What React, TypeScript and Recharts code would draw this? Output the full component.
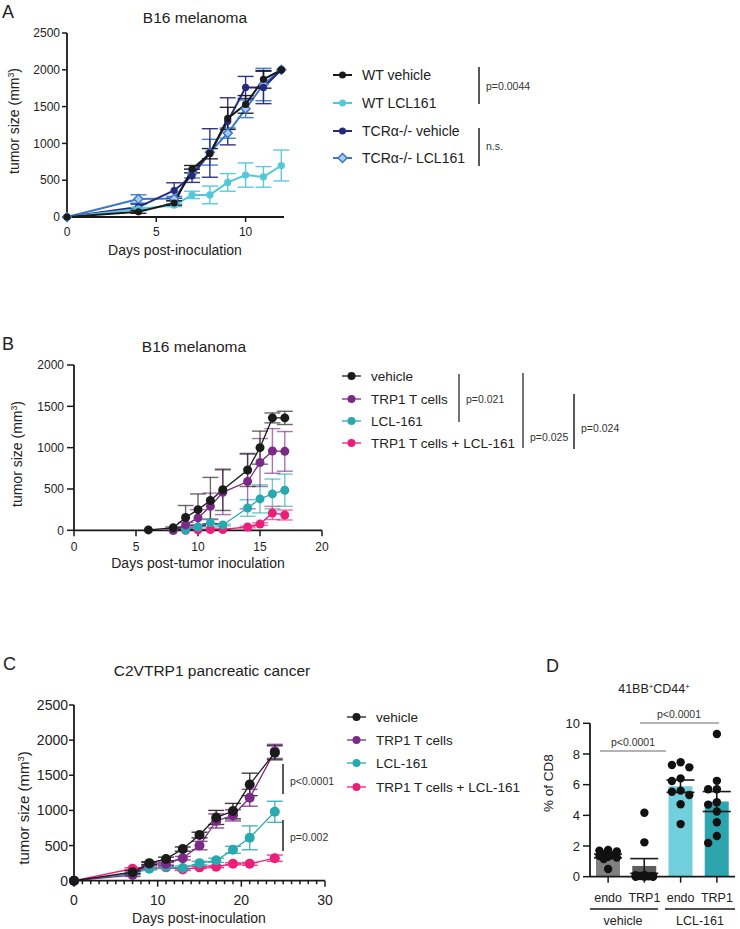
import React from "react"
import { Bar, Cell, ComposedChart, ErrorBar, Line, LineChart, Scatter, XAxis, YAxis } from "recharts"

const FONT = "'Liberation Sans', Arial, Helvetica, sans-serif"
const INK = "#1a1a1a"

// ---- panel A: B16, WT vs TCRa-/- ----
const daysA = [0, 4, 6, 7, 8, 9, 10, 11, 12]
const wtVehicle = [0, 70, 190, 650, 860, 1340, 1530, 1870, 2000]
const wtVehicleSem = [0, 20, 30, 50, 70, 150, 120, 120, 0]
const wtLcl = [0, 110, 160, 300, 300, 470, 570, 545, 700]
const wtLclSem = [0, 20, 20, 50, 120, 120, 165, 140, 210]
const tcrVehicle = [0, 135, 360, 560, 870, 1300, 1760, 1760, 2000]
const tcrVehicleSem = [0, 40, 105, 90, 330, 320, 150, 220, 0]
const tcrLcl = [0, 245, 250, 590, 880, 1140, 1470, 1800, 2000]
const tcrLclSem = [0, 57, 30, 60, 175, 70, 120, 220, 0]

// ---- panel B: B16, TRP1 T cells ----
const daysB = [6, 8, 9, 10, 11, 12, 14, 15, 16, 17]
const bVehicle = [5, 30, 155, 250, 360, 490, 730, 1000, 1360, 1360]
const bVehicleSem = [0, 10, 145, 190, 280, 250, 200, 200, 60, 80]
const bTrp1 = [null, 0, 65, 150, 290, 460, 590, 820, 960, 955]
const bTrp1Sem = [null, 0, 30, 100, 160, 270, 330, 290, 270, 240]
const bLcl = [null, 0, 5, 40, 90, 65, 270, 380, 440, 485]
const bLclSem = [null, 0, 5, 30, 50, 10, 100, 170, 180, 195]
const bCombo = [null, 0, 0, 5, 10, 10, 40, 75, 210, 185]
const bComboSem = [null, 0, 0, 0, 5, 5, 10, 15, 80, 60]

// ---- panel C: C2VTRP1 ----
const daysC = [0, 7, 9, 11, 13, 15, 17, 19, 21, 24]
const cVehicle = [0, 120, 250, 310, 450, 650, 900, 990, 1370, 1820]
const cVehicleSem = [0, 20, 20, 25, 30, 40, 100, 110, 160, 100]
const cTrp1 = [0, 80, 240, 240, 320, 500, 850, 930, 1180, 1840]
const cTrp1Sem = [0, 20, 20, 20, 25, 60, 100, 80, 120, 100]
const cLcl = [0, 100, 170, 200, 180, 250, 290, 440, 610, 980]
const cLclSem = [0, 15, 15, 20, 30, 25, 30, 50, 170, 150]
const cCombo = [0, 170, 180, 190, 160, 190, 200, 240, 240, 320]
const cComboSem = [0, 15, 15, 15, 15, 15, 15, 15, 20, 45]

// ---- panel D: 41BB+CD44+ % of CD8 ----
const dLabels = ["endo", "TRP1", "endo", "TRP1"]
const dMean = [1.35, 0.7, 5.9, 4.9]
const dSem = [0.12, 0.48, 0.4, 0.65]
const dVehEndo = [1.75, 1.7, 1.65, 1.45, 1.4, 1.35, 1.3, 1.25, 1.15, 0.5]
const dVehTrp1 = [4.17, 2.24, 0.12, 0.1, 0.05, 0.05, 0.02, 0, 0, 0]
const dLclEndo = [7.46, 7.28, 7.13, 6.41, 6.24, 5.61, 5.54, 5.33, 4.72, 3.43]
const dLclTrp1 = [9.3, 6.25, 5.7, 5.7, 4.85, 4.7, 4.25, 3.55, 2.65, 2.2]

const C_BLACK = "#1b1b1b"
const C_PURPLE = "#7b2b85"
const C_TEAL = "#2aa8b0"
const C_PINK = "#ec1e7a"

type Series = { key: string; name: string; color: string; values: (number | null)[]; sem: (number | null)[]; diamond?: boolean }

const seriesA: Series[] = [
  { key: "tcrLcl", name: "TCRα-/- LCL161", color: "#3b76c8", values: tcrLcl, sem: tcrLclSem, diamond: true },
  { key: "tcrVehicle", name: "TCRα-/- vehicle", color: "#252a7e", values: tcrVehicle, sem: tcrVehicleSem },
  { key: "wtLcl", name: "WT LCL161", color: "#52c8d8", values: wtLcl, sem: wtLclSem },
  { key: "wtVehicle", name: "WT vehicle", color: "#1a1a1a", values: wtVehicle, sem: wtVehicleSem },
]

const seriesB: Series[] = [
  { key: "combo", name: "TRP1 T cells + LCL-161", color: C_PINK, values: bCombo, sem: bComboSem },
  { key: "lcl", name: "LCL-161", color: C_TEAL, values: bLcl, sem: bLclSem },
  { key: "trp1", name: "TRP1 T cells", color: C_PURPLE, values: bTrp1, sem: bTrp1Sem },
  { key: "vehicle", name: "vehicle", color: C_BLACK, values: bVehicle, sem: bVehicleSem },
]

const seriesC: Series[] = [
  { key: "combo", name: "TRP1 T cells + LCL-161", color: C_PINK, values: cCombo, sem: cComboSem },
  { key: "lcl", name: "LCL-161", color: C_TEAL, values: cLcl, sem: cLclSem },
  { key: "trp1", name: "TRP1 T cells", color: C_PURPLE, values: cTrp1, sem: cTrp1Sem },
  { key: "vehicle", name: "vehicle", color: C_BLACK, values: cVehicle, sem: cVehicleSem },
]

function buildRows(days: number[], series: Series[]) {
  return days.map((day, i) => {
    const row: Record<string, number | null> = { day }
    series.forEach((s) => {
      row[s.key] = s.values[i]
      row[s.key + "Sem"] = s.values[i] == null ? null : s.sem[i]
    })
    return row
  })
}

const rowsA = buildRows(daysA, seriesA)
const rowsB = buildRows(daysB, seriesB)
const rowsC = buildRows(daysC, seriesC)

const rowsD = dMean.map((mean, i) => ({ x: i + 1, mean, sem: dSem[i] }))
const dGroups = [dVehEndo, dVehTrp1, dLclEndo, dLclTrp1]
const D_BAR_COLORS = ["#808080", "#5e5e5e", "#71d0dc", "#2ca5ae"]

// little beeswarm so dots of a group don't sit on top of each other
function swarm(values: number[], group: number) {
  const placed: { x: number; y: number }[] = []
  const cands = [0, -0.24, 0.24, -0.12, 0.12]
  const sorted = [...values].sort((a, b) => b - a)
  sorted.forEach((v) => {
    let best = cands[0]
    let bestD = -1
    for (const c of cands) {
      let dmin = Infinity
      placed.forEach((p) => {
        const dx = (p.x - c) * 36
        const dy = (p.y - v) * 15.3
        dmin = Math.min(dmin, Math.hypot(dx, dy))
      })
      if (dmin >= 7.5) {
        best = c
        break
      }
      if (dmin > bestD) {
        bestD = dmin
        best = c
      }
    }
    placed.push({ x: best, y: v })
  })
  return placed.map((p) => ({ x: group + p.x, y: p.y }))
}
const dotsD = dGroups.flatMap((g, i) => swarm(g, i + 1))

const axisLine = { stroke: INK, strokeWidth: 1.8 }
const tickLine = { stroke: INK, strokeWidth: 1.5 }

const diamondDot = (props: any) => {
  const { cx, cy, index } = props
  if (cx == null || cy == null) return <g key={`dm-${index}`} />
  const s = 4.5
  return (
    <path
      key={`dm-${index}`}
      d={`M${cx},${cy - s} L${cx + s},${cy} L${cx},${cy + s} L${cx - s},${cy} Z`}
      fill="#a9cbf0"
      stroke="#3b76c8"
      strokeWidth={1.5}
    />
  )
}

function Sup({ children }: { children: React.ReactNode }) {
  return (
    <tspan baselineShift="super" fontSize="0.62em">
      {children}
    </tspan>
  )
}

function LegendRow(props: { x: number; y: number; color: string; label: React.ReactNode; diamond?: boolean; lw: number; r: number; size: number }) {
  const { x, y, color, label, diamond, lw, r, size } = props
  return (
    <g>
      <line x1={x} x2={x + 19} y1={y} y2={y} stroke={color} strokeWidth={lw} />
      {diamond ? (
        <path d={`M${x + 9.5},${y - 4.5} L${x + 14},${y} L${x + 9.5},${y + 4.5} L${x + 5},${y} Z`} fill="#a9cbf0" stroke={color} strokeWidth={1.5} />
      ) : (
        <circle cx={x + 9.5} cy={y} r={r} fill={color} />
      )}
      <text x={x + 29} y={y + 5} fontSize={size} fill="#222">
        {label}
      </text>
    </g>
  )
}

function Bracket({ x, y1, y2, label, ly, color = "#444" }: { x: number; y1: number; y2: number; label: string; ly: number; color?: string }) {
  return (
    <g>
      <line x1={x} x2={x} y1={y1} y2={y2} stroke={color} strokeWidth={1.5} />
      <text x={x + 7} y={ly} fontSize={10.5} fill="#333">
        {label}
      </text>
    </g>
  )
}

function TumorLabel({ x, y, size }: { x: number; y: number; size: number }) {
  return (
    <text transform={`translate(${x},${y}) rotate(-90)`} textAnchor="middle" fontSize={size} fill="#222">
      tumor size (mm<Sup>3</Sup>)
    </text>
  )
}

function Overlay() {
  return (
    <svg width={740} height={929} style={{ position: "absolute", left: 0, top: 0, pointerEvents: "none" }} fontFamily={FONT}>
      {/* A */}
      <text x={2} y={18} fontSize={18} fill="#222">A</text>
      <text x={195} y={23} fontSize={15.5} textAnchor="middle" fill="#222">B16 melanoma</text>
      <TumorLabel x={19} y={121} size={14} />
      <text x={175} y={255} fontSize={14} textAnchor="middle" fill="#222">Days post-inoculation</text>
      <LegendRow x={333} y={75} color="#1a1a1a" label="WT vehicle" lw={2} r={3.5} size={14} />
      <LegendRow x={333} y={103} color="#52c8d8" label="WT LCL161" lw={2} r={3.5} size={14} />
      <LegendRow x={333} y={131} color="#252a7e" label="TCRα-/- vehicle" lw={2} r={3.5} size={14} />
      <LegendRow x={333} y={158} color="#3b76c8" label="TCRα-/- LCL161" lw={2} r={3.5} size={14} diamond />
      <Bracket x={479} y1={67} y2={104} label="p=0.0044" ly={90} color="#222" />
      <Bracket x={479} y1={128} y2={166} label="n.s." ly={150} color="#222" />

      {/* B */}
      <text x={2} y={350} fontSize={18} fill="#222">B</text>
      <text x={194} y={352} fontSize={15.5} textAnchor="middle" fill="#222">B16 melanoma</text>
      <TumorLabel x={22} y={454} size={14} />
      <text x={198} y={568} fontSize={14} textAnchor="middle" fill="#222">Days post-tumor inoculation</text>
      <LegendRow x={342} y={376} color={C_BLACK} label="vehicle" lw={1.3} r={4} size={13.5} />
      <LegendRow x={342} y={399} color={C_PURPLE} label="TRP1 T cells" lw={1.3} r={4} size={13.5} />
      <LegendRow x={342} y={421} color={C_TEAL} label="LCL-161" lw={1.3} r={4} size={13.5} />
      <LegendRow x={342} y={443} color={C_PINK} label="TRP1 T cells + LCL-161" lw={1.3} r={4} size={13.5} />
      <Bracket x={459} y1={374} y2={422} label="p=0.021" ly={403} />
      <Bracket x={523} y1={373} y2={448} label="p=0.025" ly={441} />
      <Bracket x={574} y1={394} y2={449} label="p=0.024" ly={432} color="#222" />

      {/* C */}
      <text x={3} y={670} fontSize={18} fill="#222">C</text>
      <text x={212} y={676} fontSize={15.5} textAnchor="middle" fill="#222">C2VTRP1 pancreatic cancer</text>
      <TumorLabel x={29} y={808} size={15} />
      <text x={199} y={923} fontSize={14} textAnchor="middle" fill="#222">Days post-inoculation</text>
      <LegendRow x={347} y={717} color={C_BLACK} label="vehicle" lw={1.3} r={4} size={13.5} />
      <LegendRow x={347} y={740} color={C_PURPLE} label="TRP1 T cells" lw={1.3} r={4} size={13.5} />
      <LegendRow x={347} y={763} color={C_TEAL} label="LCL-161" lw={1.3} r={4} size={13.5} />
      <LegendRow x={347} y={787} color={C_PINK} label="TRP1 T cells + LCL-161" lw={1.3} r={4} size={13.5} />
      <Bracket x={283} y1={764} y2={794} label="p<0.0001" ly={785} color="#222" />
      <Bracket x={283} y1={820} y2={851} label="p=0.002" ly={841} color="#222" />

      {/* D */}
      <text x={546} y={672} fontSize={18} fill="#222">D</text>
      <text x={654} y={693} fontSize={12.5} textAnchor="middle" fill="#222">
        41BB<Sup>+</Sup>CD44<Sup>+</Sup>
      </text>
      <text transform="translate(553,783) rotate(-90)" textAnchor="middle" fontSize={13.5} fill="#222">% of CD8</text>
      <line x1={600} x2={666} y1={751} y2={751} stroke="#9a9a9a" strokeWidth={1.5} />
      <text x={633} y={746} fontSize={10.5} textAnchor="middle" fill="#333">p&lt;0.0001</text>
      <line x1={640} x2={719} y1={723} y2={723} stroke="#9a9a9a" strokeWidth={1.5} />
      <text x={679} y={718} fontSize={10.5} textAnchor="middle" fill="#333">p&lt;0.0001</text>
      <line x1={590} x2={658} y1={909} y2={909} stroke={INK} strokeWidth={1.5} />
      <line x1={665} x2={735} y1={909} y2={909} stroke={INK} strokeWidth={1.5} />
      <text x={623} y={925} fontSize={12.5} textAnchor="middle" fill="#222">vehicle</text>
      <text x={700} y={925} fontSize={12.5} textAnchor="middle" fill="#222">LCL-161</text>
    </svg>
  )
}

function TimeCourse(props: {
  left: number
  top: number
  width: number
  height: number
  margin: { top: number; right: number; bottom: number; left: number }
  yWidth: number
  rows: Record<string, number | null>[]
  series: Series[]
  xDomain: [number, number]
  xTicks: number[]
  yDomain: [number, number]
  yTicks: number[]
  fontSize: number
  lineWidth: number
  dotR: number
  xTickSize: number
  xTickMargin: number
  yTickSize: number
  yTickMargin: number
  minorTicks?: number[]
  errOpacity: number
}) {
  const p = props
  const majorSet = new Set(p.xTicks)
  const minorTick = (tp: any) => {
    const { x, y, payload } = tp
    const major = majorSet.has(payload.value)
    return (
      <g>
        <line x1={x} x2={x} y1={y} y2={y + (major ? 6 : 3.5)} stroke={INK} strokeWidth={1.5} />
        {major && (
          <text x={x} y={y + 14} dy="0.71em" textAnchor="middle" fontSize={p.fontSize} fill="#222">
            {payload.value}
          </text>
        )}
      </g>
    )
  }
  return (
    <div style={{ position: "absolute", left: p.left, top: p.top }}>
      <LineChart width={p.width} height={p.height} data={p.rows} margin={p.margin}>
        {p.minorTicks ? (
          <XAxis
            type="number"
            dataKey="day"
            domain={p.xDomain}
            ticks={p.minorTicks}
            interval={0}
            height={20}
            axisLine={axisLine}
            tickLine={false}
            tickSize={0}
            tickMargin={0}
            tick={minorTick}
          />
        ) : (
          <XAxis
            type="number"
            dataKey="day"
            domain={p.xDomain}
            ticks={p.xTicks}
            interval={0}
            height={20}
            axisLine={axisLine}
            tickLine={tickLine}
            tickSize={p.xTickSize}
            tickMargin={p.xTickMargin}
            tick={{ fill: "#222", fontSize: p.fontSize }}
          />
        )}
        <YAxis
          type="number"
          domain={p.yDomain}
          ticks={p.yTicks}
          interval={0}
          width={p.yWidth}
          axisLine={axisLine}
          tickLine={tickLine}
          tickSize={p.yTickSize}
          tickMargin={p.yTickMargin}
          tick={{ fill: "#222", fontSize: p.fontSize }}
        />
        {p.series.map((s) => (
          <Line
            key={s.key}
            type="linear"
            dataKey={s.key}
            name={s.name}
            stroke={s.color}
            strokeWidth={p.lineWidth}
            dot={s.diamond ? diamondDot : { r: p.dotR, fill: s.color, stroke: s.color, strokeWidth: 0 }}
            activeDot={false}
            isAnimationActive={false}
          >
            <ErrorBar
              dataKey={s.key + "Sem"}
              direction="y"
              width={8}
              strokeWidth={1.4}
              stroke={s.color}
              strokeOpacity={p.errOpacity}
              isAnimationActive={false}
            />
          </Line>
        ))}
      </LineChart>
    </div>
  )
}

function PanelD() {
  return (
    <div style={{ position: "absolute", left: 540, top: 700 }}>
      <ComposedChart width={200} height={215} data={rowsD} margin={{ top: 23.3, right: 5, bottom: 18.3, left: 0 }}>
        <XAxis
          xAxisId="cat"
          type="category"
          dataKey="x"
          interval={0}
          height={20}
          axisLine={axisLine}
          tickLine={tickLine}
          tickSize={6}
          tickMargin={10}
          tickFormatter={(v: number) => dLabels[v - 1]}
          tick={{ fill: "#222", fontSize: 12.5 }}
        />
        <XAxis xAxisId="num" type="number" dataKey="x" domain={[0.5, 4.5]} allowDataOverflow hide />
        <YAxis
          type="number"
          domain={[0, 10]}
          ticks={[0, 2, 4, 6, 8, 10]}
          interval={0}
          width={50}
          axisLine={axisLine}
          tickLine={tickLine}
          tickSize={7}
          tickMargin={3}
          tick={{ fill: "#222", fontSize: 13 }}
        />
        <Bar xAxisId="cat" dataKey="mean" barSize={24} isAnimationActive={false}>
          {rowsD.map((r, i) => (
            <Cell key={r.x} fill={D_BAR_COLORS[i]} />
          ))}
          <ErrorBar dataKey="sem" direction="y" width={14} strokeWidth={1.6} stroke={INK} isAnimationActive={false} />
        </Bar>
        <Scatter
          xAxisId="num"
          data={dotsD}
          dataKey="y"
          isAnimationActive={false}
          shape={(sp: any) => <circle cx={sp.cx} cy={sp.cy} r={4.2} fill="#111" />}
        />
      </ComposedChart>
    </div>
  )
}

export default function App() {
  return (
    <div style={{ position: "absolute", left: 0, top: 0, width: 740, height: 929, background: "#fff", fontFamily: FONT }}>
      <TimeCourse
        left={0}
        top={0}
        width={300}
        height={250}
        margin={{ top: 33, right: 16, bottom: 13, left: 0 }}
        yWidth={67}
        rows={rowsA}
        series={seriesA}
        xDomain={[0, 12.15]}
        xTicks={[0, 5, 10]}
        yDomain={[0, 2500]}
        yTicks={[0, 500, 1000, 1500, 2000, 2500]}
        fontSize={12}
        lineWidth={2}
        dotR={3.6}
        xTickSize={5}
        xTickMargin={5}
        yTickSize={5}
        yTickMargin={2}
        errOpacity={0.95}
      />
      <TimeCourse
        left={0}
        top={330}
        width={340}
        height={240}
        margin={{ top: 35, right: 18, bottom: 19.7, left: 0 }}
        yWidth={74}
        rows={rowsB}
        series={seriesB}
        xDomain={[0, 20]}
        xTicks={[0, 5, 10, 15, 20]}
        yDomain={[0, 2000]}
        yTicks={[0, 500, 1000, 1500, 2000]}
        fontSize={12}
        lineWidth={1.3}
        dotR={4.5}
        xTickSize={6}
        xTickMargin={6}
        yTickSize={7}
        yTickMargin={3}
        errOpacity={0.65}
      />
      <TimeCourse
        left={0}
        top={690}
        width={340}
        height={220}
        margin={{ top: 15, right: 15, bottom: 9.3, left: 0 }}
        yWidth={74}
        rows={rowsC}
        series={seriesC}
        xDomain={[0, 30]}
        xTicks={[0, 10, 20, 30]}
        minorTicks={Array.from({ length: 31 }, (_, i) => i)}
        yDomain={[0, 2500]}
        yTicks={[0, 500, 1000, 1500, 2000, 2500]}
        fontSize={14}
        lineWidth={1.3}
        dotR={5}
        xTickSize={6}
        xTickMargin={8}
        yTickSize={5}
        yTickMargin={1}
        errOpacity={0.85}
      />
      <PanelD />
      <Overlay />
    </div>
  )
}
